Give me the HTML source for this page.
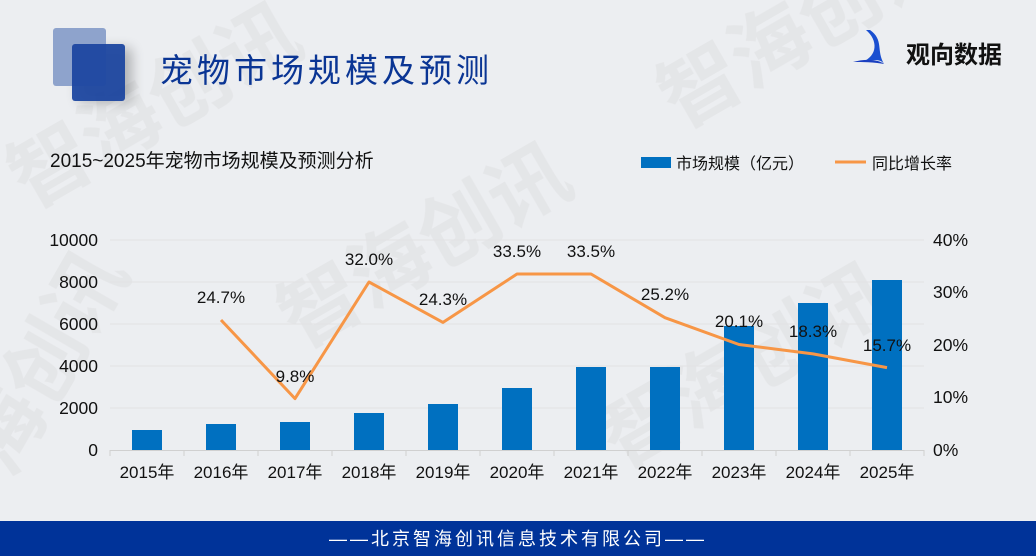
<!DOCTYPE html>
<html><head><meta charset="utf-8"><style>
html,body{margin:0;padding:0;}
body{width:1036px;height:556px;background:#eceef1;overflow:hidden;position:relative;font-family:"Liberation Sans","Noto Sans CJK SC",sans-serif;}
</style></head><body>
<svg width="1036" height="556" style="position:absolute;left:0;top:0" font-family="Liberation Sans, Noto Sans CJK SC, sans-serif">
<defs>
<filter id="sh" x="-50%" y="-50%" width="200%" height="200%"><feGaussianBlur stdDeviation="6"/></filter>
</defs>
<g fill="#dcdcde" font-size="80" font-weight="bold" opacity="0.45">
<text x="30" y="210" transform="rotate(-30 30 210)">智海创讯</text>
<text x="680" y="130" transform="rotate(-30 680 130)">智海创讯</text>
<text x="300" y="350" transform="rotate(-30 300 350)">智海创讯</text>
<text x="10" y="480" transform="rotate(-60 10 480)">海创讯</text>
<text x="620" y="470" transform="rotate(-30 620 470)">智海创讯</text>
</g>
<rect x="78" y="48" width="54" height="54" rx="3" fill="#000" opacity="0.25" filter="url(#sh)"/>
<rect x="53" y="28" width="53" height="58" rx="3" fill="#8ea3cc"/>
<rect x="72" y="44" width="53" height="57" rx="3" fill="#1d47a0" opacity="0.95"/>
<text x="160" y="82" font-size="33" fill="#0a3594" letter-spacing="4">宠物市场规模及预测</text>
<path d="M866 30 C878 40 878 56 862 62 C872 60 880 58 884 64 C876 50 884 40 870 30 Z" fill="#1a4fd0"/>
<path d="M853 62 C866 58 880 60 884 64 C874 62 862 62 853 62 Z" fill="#1a3fc0"/>
<text x="906" y="63" font-size="24" font-weight="bold" fill="#111">观向数据</text>
<text x="50" y="167" font-size="19" fill="#111">2015~2025年宠物市场规模及预测分析</text>
<rect x="641" y="157" width="30" height="11" fill="#0070c0"/>
<text x="676" y="169" font-size="16" fill="#111">市场规模（亿元）</text>
<line x1="835" y1="162" x2="866" y2="162" stroke="#f79646" stroke-width="3"/>
<text x="872" y="169" font-size="16" fill="#111">同比增长率</text>
<g stroke="#e2e2e4" stroke-width="1">
<line x1="110" y1="240" x2="924" y2="240"/><line x1="110" y1="282" x2="924" y2="282"/>
<line x1="110" y1="324" x2="924" y2="324"/><line x1="110" y1="366" x2="924" y2="366"/>
<line x1="110" y1="408" x2="924" y2="408"/>
</g>
<line x1="110" y1="450.5" x2="924" y2="450.5" stroke="#d0d0d0"/>
<g stroke="#d0d0d0">
<line x1="110" y1="450" x2="110" y2="456"/><line x1="184" y1="450" x2="184" y2="456"/><line x1="258" y1="450" x2="258" y2="456"/><line x1="332" y1="450" x2="332" y2="456"/><line x1="406" y1="450" x2="406" y2="456"/><line x1="480" y1="450" x2="480" y2="456"/><line x1="554" y1="450" x2="554" y2="456"/><line x1="628" y1="450" x2="628" y2="456"/><line x1="702" y1="450" x2="702" y2="456"/><line x1="776" y1="450" x2="776" y2="456"/><line x1="850" y1="450" x2="850" y2="456"/><line x1="924" y1="450" x2="924" y2="456"/>
</g>
<g font-size="17.5" fill="#111" text-anchor="end">
<text x="98" y="246">10000</text><text x="98" y="288">8000</text><text x="98" y="330">6000</text><text x="98" y="372">4000</text><text x="98" y="414">2000</text><text x="98" y="456">0</text>
</g>
<g font-size="17.5" fill="#111" text-anchor="start">
<text x="933" y="246">40%</text><text x="933" y="298">30%</text><text x="933" y="351">20%</text><text x="933" y="403">10%</text><text x="933" y="456">0%</text>
</g>
<g fill="#0070c0">
<rect x="132" y="430" width="30" height="20"/>
<rect x="206" y="424" width="30" height="26"/>
<rect x="280" y="422" width="30" height="28"/>
<rect x="354" y="413" width="30" height="37"/>
<rect x="428" y="404" width="30" height="46"/>
<rect x="502" y="388" width="30" height="62"/>
<rect x="576" y="367" width="30" height="83"/>
<rect x="650" y="367" width="30" height="83"/>
<rect x="724" y="326" width="30" height="124"/>
<rect x="798" y="303" width="30" height="147"/>
<rect x="872" y="280" width="30" height="170"/>
</g>
<g font-size="17" fill="#111" text-anchor="middle">
<text x="147" y="478">2015年</text><text x="221" y="478">2016年</text><text x="295" y="478">2017年</text><text x="369" y="478">2018年</text><text x="443" y="478">2019年</text><text x="517" y="478">2020年</text><text x="591" y="478">2021年</text><text x="665" y="478">2022年</text><text x="739" y="478">2023年</text><text x="813" y="478">2024年</text><text x="887" y="478">2025年</text>
</g>
<polyline fill="none" stroke="#f79646" stroke-width="3" stroke-linejoin="round" points="221,320 295,398.6 369,282 443,322.4 517,274 591,274 665,317.7 739,344.5 813,353.9 887,367.6"/>
<g font-size="17" fill="#111" text-anchor="middle">
<text x="221" y="303">24.7%</text><text x="295" y="382">9.8%</text><text x="369" y="265">32.0%</text><text x="443" y="305">24.3%</text><text x="517" y="257">33.5%</text><text x="591" y="257">33.5%</text><text x="665" y="300">25.2%</text><text x="739" y="327">20.1%</text><text x="813" y="337">18.3%</text><text x="887" y="351">15.7%</text>
</g>
<rect x="0" y="521" width="1036" height="35" fill="#003399"/>
<text x="518" y="545" font-size="18" fill="#fff" text-anchor="middle" letter-spacing="3">——北京智海创讯信息技术有限公司——</text>
</svg>
</body></html>
